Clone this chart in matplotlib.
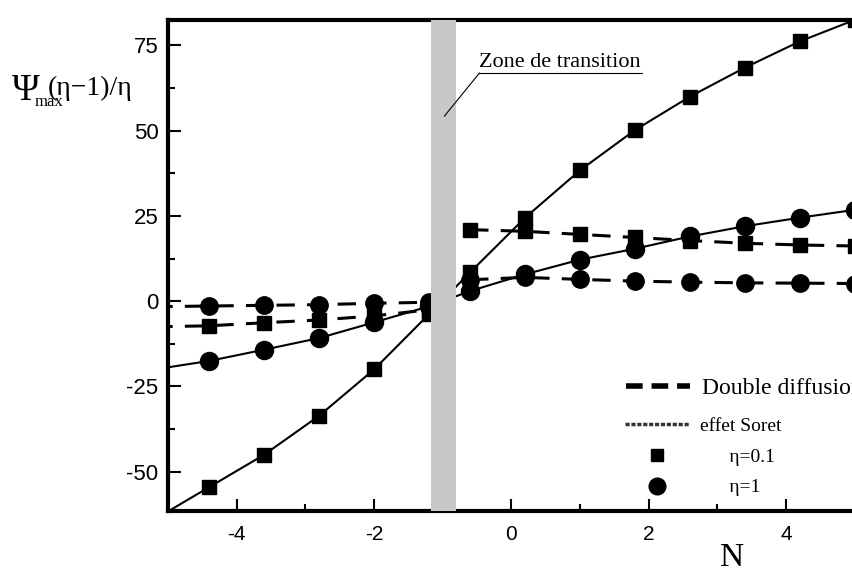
import numpy as np
import matplotlib
matplotlib.use("Agg")
import matplotlib.pyplot as plt
from matplotlib.lines import Line2D
from matplotlib.legend_handler import HandlerLine2D
from matplotlib.ticker import MultipleLocator

plt.rcParams['axes.unicode_minus'] = False

# data
N = [-5.2, -4.4, -3.6, -2.8, -2.0, -1.2, -0.6, 0.2, 1.0, 1.8, 2.6, 3.4, 4.2, 5.0]
dd_eta01 = [-7.5, -7.2, -6.3, -5.5, -4.3, -2.5, 21.0, 20.5, 19.6, 18.7, 17.8, 17.0, 16.5, 16.2]
dd_eta1 = [-1.6, -1.4, -1.2, -1.0, -0.6, -0.3, 6.3, 7.0, 6.4, 5.9, 5.6, 5.4, 5.3, 5.2]
soret_eta01 = [-64.0, -54.5, -45.0, -33.6, -20.0, -3.8, 8.5, 24.5, 38.4, 50.2, 60.0, 68.5, 76.2, 82.5]
soret_eta1 = [-20.0, -17.5, -14.2, -10.8, -6.2, -1.5, 3.0, 7.9, 12.2, 15.4, 19.0, 22.0, 24.5, 26.8]
zone = (-1.17, -0.80)

fig = plt.figure(figsize=(8.53, 5.69), dpi=100)
ax = fig.add_axes([0.197, 0.102, 0.805, 0.863])

Na = np.array(N)
left = Na < zone[0]
right = Na > zone[1]

dash = dict(color='black', lw=2.2, dashes=(6, 4))
solid = dict(color='black', lw=1.5)
# double diffusion curves jump across the transition zone
for m in (left, right):
    ax.plot(Na[m], np.array(dd_eta01)[m], marker='s', ms=10, **dash)
    ax.plot(Na[m], np.array(dd_eta1)[m], marker='o', ms=12.5, **dash)
ax.plot(N, soret_eta01, marker='s', ms=10.5, **solid)
ax.plot(N, soret_eta1, marker='o', ms=13, **solid)

# transition zone drawn over the curves
ax.axvspan(zone[0], zone[1], color='#c8c8c8', lw=0, zorder=5)

ax.set_xlim(-5, 5)
ax.set_ylim(-61.5, 82.5)
ax.xaxis.set_major_locator(MultipleLocator(2))
ax.xaxis.set_minor_locator(MultipleLocator(1))
ax.yaxis.set_major_locator(MultipleLocator(25))
ax.yaxis.set_minor_locator(MultipleLocator(12.5))
ax.tick_params(which='both', direction='in', top=False, right=False, width=1.5)
ax.tick_params(which='major', length=9)
ax.tick_params(which='minor', length=5)
ax.tick_params(axis='x', pad=10, labelsize=15)
ax.tick_params(axis='y', pad=7, labelsize=16)
for lab in ax.get_xticklabels() + ax.get_yticklabels():
    lab.set_family('Liberation Sans')
for s in ['left', 'bottom', 'top']:
    ax.spines[s].set_linewidth(3)
ax.spines['right'].set_visible(False)

# annotation for the transition zone
ax.text(-0.466, 68.6, 'Zone de transition', family='Liberation Serif',
        fontsize=16, va='baseline', ha='left', zorder=6)
ax.plot([-0.466, 1.9], [66.9, 66.9], color='black', lw=0.8, zorder=6)
ax.plot([-0.466, -0.975], [66.9, 54.3], color='black', lw=0.8, zorder=6)

# y title built from pieces: big Psi, subscript, rest
fig.text(12 / 853, 1 - 100 / 569, '\u03a8', family='Liberation Serif',
         fontsize=27, va='baseline', ha='left')
fig.text(35 / 853, 1 - 106 / 569, 'max', family='Liberation Serif',
         fontsize=12, va='baseline', ha='left')
fig.text(48 / 853, 1 - 95 / 569, '(\u03b7\u22121)/\u03b7', family='Liberation Serif',
         fontsize=20, va='baseline', ha='left')
fig.text(732 / 853, 1 - 566 / 569, 'N', family='Liberation Serif',
         fontsize=24, va='baseline', ha='center')


class EndMarker(HandlerLine2D):
    def get_xdata(self, legend, xdescent, ydescent, width, height, fontsize):
        xdata, _ = super().get_xdata(legend, xdescent, ydescent, width, height, fontsize)
        return xdata, [xdata[-1] - 0.15 * width]


h_dd = Line2D([], [], color='black', lw=4, dashes=(3, 1.6))
h_so = Line2D([], [], color='#333333', lw=2.5, linestyle=(0, (1.2, 0.5)))
h_sq = Line2D([], [], color='black', ls='none', marker='s', ms=9)
h_ci = Line2D([], [], color='black', ls='none', marker='o', ms=12)

leg1 = ax.legend([h_dd], ['Double diffusion'], loc='center left',
                 bbox_to_anchor=(0.667, 0.25), frameon=False,
                 prop={'family': 'Liberation Serif', 'size': 17},
                 handlelength=2.7, handletextpad=0.5, borderpad=0, borderaxespad=0)
ax.add_artist(leg1)
ax.legend([h_so, h_sq, h_ci], ['effet Soret', '      \u03b7=0.1', '      \u03b7=1'],
          loc='center left', bbox_to_anchor=(0.666, 0.11), frameon=False,
          prop={'family': 'Liberation Serif', 'size': 14},
          handlelength=3.3, handletextpad=0.55, labelspacing=0.67,
          borderpad=0, borderaxespad=0,
          handler_map={h_sq: EndMarker(), h_ci: EndMarker()})

fig.savefig('out.png', dpi=100)
